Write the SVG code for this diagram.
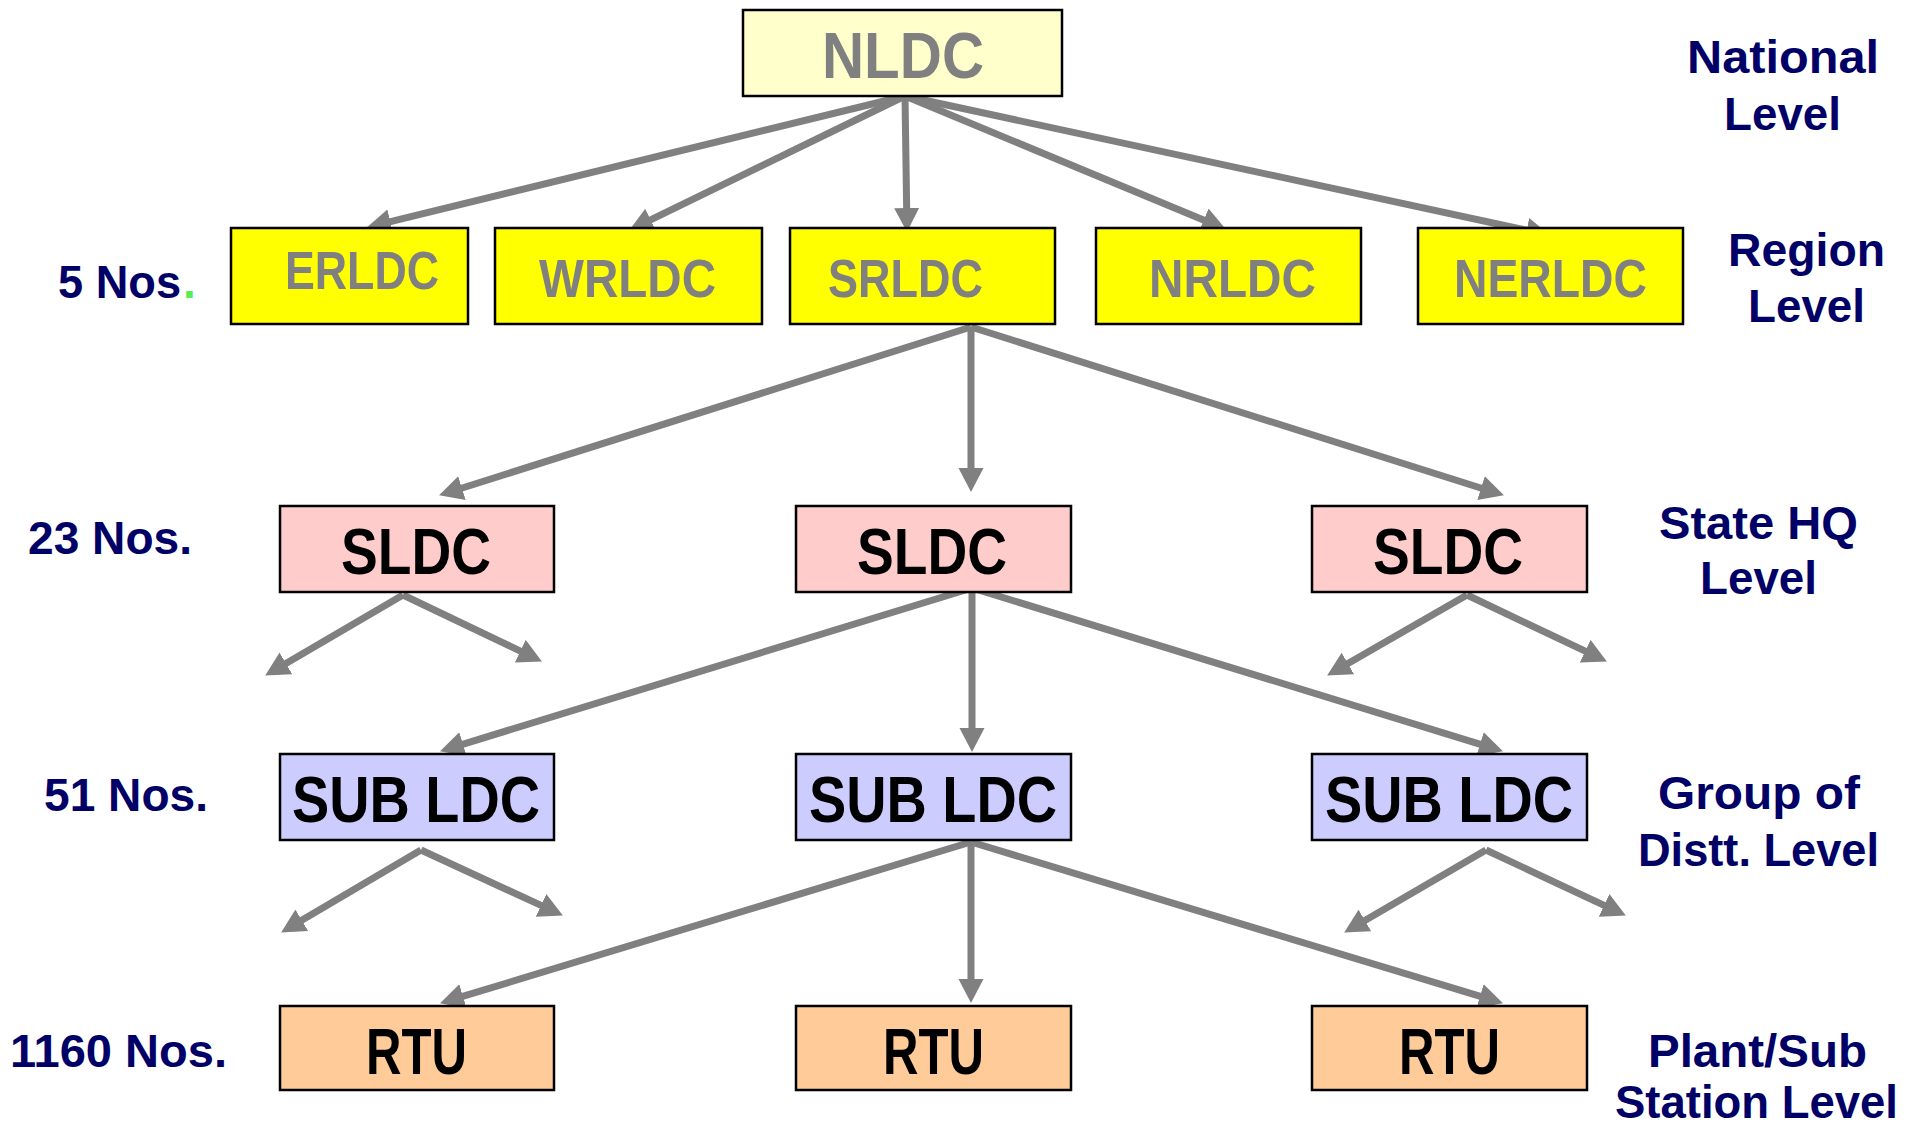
<svg xmlns="http://www.w3.org/2000/svg" width="1923" height="1127" viewBox="0 0 1923 1127">
<defs>
<style>
.box{stroke:#000;stroke-width:2.5}
.nl{fill:#FFFFCC}.rg{fill:#FFFF00}.sl{fill:#FFCCCC}.sb{fill:#CCCCFF}.rt{fill:#FFCC99}
.gt{font-family:"Liberation Sans",Arial,sans-serif;fill:#808080;font-weight:bold}
.bt{font-family:"Liberation Sans",Arial,sans-serif;fill:#000;font-size:64px;font-weight:bold}
.lb{font-family:"Liberation Sans",Arial,sans-serif;fill:#000066;font-size:46px;font-weight:bold}
.ar{stroke:#808080;stroke-width:7;fill:none;marker-end:url(#ah)}
</style>
<marker id="ah" markerUnits="userSpaceOnUse" markerWidth="26" markerHeight="26" refX="3" refY="13" orient="auto" viewBox="0 0 26 26">
<path d="M0,0.5 L24,13 L0,25.5 z" fill="#808080"/>
</marker>
</defs>
<rect width="1923" height="1127" fill="#fff"/>

<g id="connectors">
<line class="ar" x1="905" y1="96" x2="387.4" y2="222.3"/>
<line class="ar" x1="905" y1="96" x2="648" y2="221.2"/>
<line class="ar" x1="905" y1="96" x2="906.7" y2="211"/>
<line class="ar" x1="905" y1="96" x2="1206.5" y2="221.3"/>
<line class="ar" x1="905" y1="96" x2="1529.5" y2="230.8"/>

<line class="ar" x1="971" y1="327" x2="459.1" y2="489"/>
<line class="ar" x1="971" y1="327" x2="971" y2="471"/>
<line class="ar" x1="971" y1="327" x2="1483.9" y2="489"/>

<line class="ar" x1="403" y1="595" x2="283.3" y2="664.9"/>
<line class="ar" x1="403" y1="595" x2="523" y2="652.4"/>
<line class="ar" x1="972" y1="588" x2="460.1" y2="745.1"/>
<line class="ar" x1="972" y1="588" x2="972" y2="731"/>
<line class="ar" x1="972" y1="588" x2="1482.9" y2="745.1"/>
<line class="ar" x1="1467" y1="595" x2="1345.3" y2="665"/>
<line class="ar" x1="1467" y1="595" x2="1587.9" y2="652.4"/>

<line class="ar" x1="421" y1="850" x2="299.2" y2="921.8"/>
<line class="ar" x1="421" y1="850" x2="543.8" y2="906.6"/>
<line class="ar" x1="971" y1="842" x2="460.1" y2="997.2"/>
<line class="ar" x1="971" y1="842" x2="971" y2="982"/>
<line class="ar" x1="971" y1="842" x2="1482.9" y2="997.2"/>
<line class="ar" x1="1486" y1="850" x2="1362.3" y2="922"/>
<line class="ar" x1="1486" y1="850" x2="1606.8" y2="906.6"/>
</g>

<g id="nldc"><rect class="box nl" x="743" y="10" width="319" height="86"/>
<text class="gt" x="822" y="78" font-size="64" textLength="162" lengthAdjust="spacingAndGlyphs">NLDC</text></g>

<g id="erldc"><rect class="box rg" x="231" y="228" width="237" height="96"/>
<text class="gt" x="285" y="289" font-size="54" textLength="154" lengthAdjust="spacingAndGlyphs">ERLDC</text></g>
<g id="wrldc"><rect class="box rg" x="495" y="228" width="267" height="96"/>
<text class="gt" x="539" y="297" font-size="54" textLength="177" lengthAdjust="spacingAndGlyphs">WRLDC</text></g>
<g id="srldc"><rect class="box rg" x="790" y="228" width="265" height="96"/>
<text class="gt" x="828" y="297" font-size="54" textLength="155" lengthAdjust="spacingAndGlyphs">SRLDC</text></g>
<g id="nrldc"><rect class="box rg" x="1096" y="228" width="265" height="96"/>
<text class="gt" x="1149" y="297" font-size="54" textLength="167" lengthAdjust="spacingAndGlyphs">NRLDC</text></g>
<g id="nerldc"><rect class="box rg" x="1418" y="228" width="265" height="96"/>
<text class="gt" x="1454" y="297" font-size="54" textLength="193" lengthAdjust="spacingAndGlyphs">NERLDC</text></g>

<g id="sldc1"><rect class="box sl" x="280" y="506" width="274" height="86"/>
<text class="bt" x="341" y="574" textLength="150" lengthAdjust="spacingAndGlyphs">SLDC</text></g>
<g id="sldc2"><rect class="box sl" x="796" y="506" width="275" height="86"/>
<text class="bt" x="857" y="574" textLength="150" lengthAdjust="spacingAndGlyphs">SLDC</text></g>
<g id="sldc3"><rect class="box sl" x="1312" y="506" width="275" height="86"/>
<text class="bt" x="1373" y="574" textLength="150" lengthAdjust="spacingAndGlyphs">SLDC</text></g>

<g id="subldc1"><rect class="box sb" x="280" y="754" width="274" height="86"/>
<text class="bt" x="292" y="822" textLength="248" lengthAdjust="spacingAndGlyphs">SUB LDC</text></g>
<g id="subldc2"><rect class="box sb" x="796" y="754" width="275" height="86"/>
<text class="bt" x="809" y="822" textLength="248" lengthAdjust="spacingAndGlyphs">SUB LDC</text></g>
<g id="subldc3"><rect class="box sb" x="1312" y="754" width="275" height="86"/>
<text class="bt" x="1325" y="822" textLength="248" lengthAdjust="spacingAndGlyphs">SUB LDC</text></g>

<g id="rtu1"><rect class="box rt" x="280" y="1006" width="274" height="84"/>
<text class="bt" x="366" y="1074" textLength="101" lengthAdjust="spacingAndGlyphs">RTU</text></g>
<g id="rtu2"><rect class="box rt" x="796" y="1006" width="275" height="84"/>
<text class="bt" x="883" y="1074" textLength="101" lengthAdjust="spacingAndGlyphs">RTU</text></g>
<g id="rtu3"><rect class="box rt" x="1312" y="1006" width="275" height="84"/>
<text class="bt" x="1399" y="1074" textLength="101" lengthAdjust="spacingAndGlyphs">RTU</text></g>

<g id="labels-left">
<text class="lb" x="58" y="298" textLength="123" lengthAdjust="spacingAndGlyphs">5 Nos</text>
<text class="lb" x="183" y="298" style="fill:#55ee55">.</text>
<text class="lb" x="28" y="554" textLength="164" lengthAdjust="spacingAndGlyphs">23 Nos.</text>
<text class="lb" x="44" y="811" textLength="164" lengthAdjust="spacingAndGlyphs">51 Nos.</text>
<text class="lb" x="10" y="1067" textLength="217" lengthAdjust="spacingAndGlyphs">1160 Nos.</text>
</g>

<g id="labels-right">
<text class="lb" x="1687" y="73" textLength="192" lengthAdjust="spacingAndGlyphs">National</text>
<text class="lb" x="1724" y="130" textLength="117" lengthAdjust="spacingAndGlyphs">Level</text>
<text class="lb" x="1728" y="266" textLength="157" lengthAdjust="spacingAndGlyphs">Region</text>
<text class="lb" x="1748" y="322" textLength="117" lengthAdjust="spacingAndGlyphs">Level</text>
<text class="lb" x="1659" y="539" textLength="199" lengthAdjust="spacingAndGlyphs">State HQ</text>
<text class="lb" x="1700" y="594" textLength="117" lengthAdjust="spacingAndGlyphs">Level</text>
<text class="lb" x="1658" y="809" textLength="202" lengthAdjust="spacingAndGlyphs">Group of</text>
<text class="lb" x="1638" y="866" textLength="241" lengthAdjust="spacingAndGlyphs">Distt. Level</text>
<text class="lb" x="1648" y="1067" textLength="219" lengthAdjust="spacingAndGlyphs">Plant/Sub</text>
<text class="lb" x="1615" y="1118" textLength="283" lengthAdjust="spacingAndGlyphs">Station Level</text>
</g>
</svg>
